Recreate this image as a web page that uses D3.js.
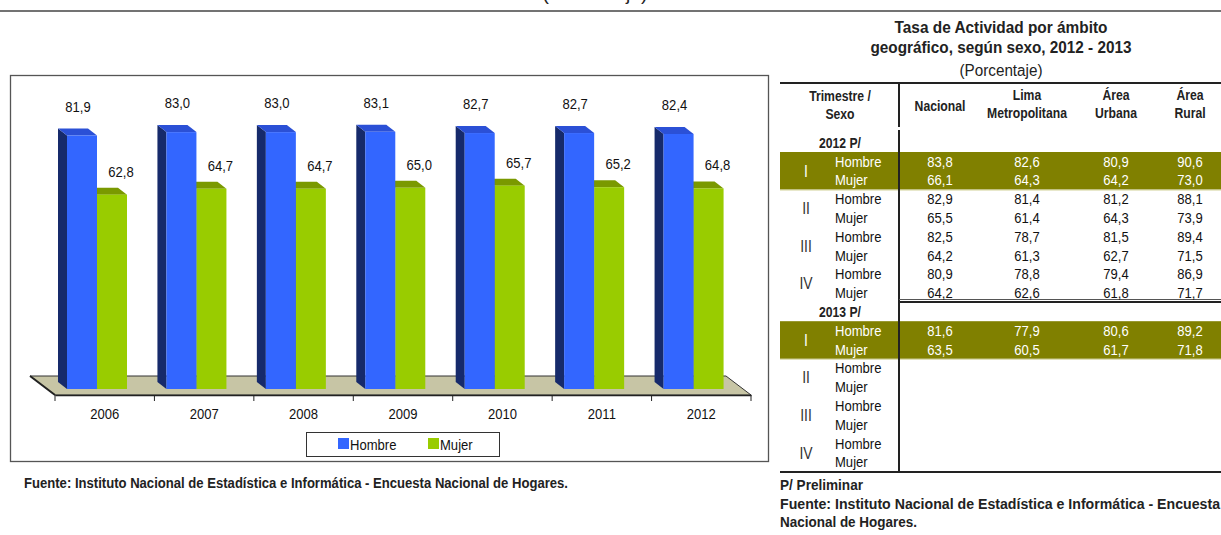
<!DOCTYPE html>
<html>
<head>
<meta charset="utf-8">
<script src="https://cdn.jsdelivr.net/npm/d3@7"></script>
<style>
  body { margin: 0; background: #fff; }
  svg { display: block; font-family: 'Liberation Sans Narrow', 'Arial Narrow', 'Liberation Sans', Arial, sans-serif; }
</style>
</head>
<body>
<svg id="chart" width="1221" height="535"></svg>
<script>
// ---- data ----
const years = ['2006', '2007', '2008', '2009', '2010', '2011', '2012'];
const hombre = [81.9, 83.0, 83.0, 83.1, 82.7, 82.7, 82.4];
const mujer = [62.8, 64.7, 64.7, 65.0, 65.7, 65.2, 64.8];
const series = ['Hombre', 'Mujer'];

const trimestres = ['I', 'II', 'III', 'IV'];
const sexos = ['Hombre', 'Mujer'];
const columnas = ['Nacional', 'Lima Metropolitana', 'Área Urbana', 'Área Rural'];
const periodos = ['2012 P/', '2013 P/'];
// rows: trimestre x sexo, values per column
const tabla2012 = [
  [83.8, 82.6, 80.9, 90.6],
  [66.1, 64.3, 64.2, 73.0],
  [82.9, 81.4, 81.2, 88.1],
  [65.5, 61.4, 64.3, 73.9],
  [82.5, 78.7, 81.5, 89.4],
  [64.2, 61.3, 62.7, 71.5],
  [80.9, 78.8, 79.4, 86.9],
  [64.2, 62.6, 61.8, 71.7]
];
const tabla2013 = [
  [81.6, 77.9, 80.6, 89.2],
  [63.5, 60.5, 61.7, 71.8],
  [], [], [], [], [], []
];

const svg = d3.select('#chart');
const fmt = v => d3.format('.1f')(v).replace('.', ',');

// ---- top rule and clipped subtitle of previous block ----
svg.append('text')
  .attr('x', 595).attr('y', 0)
  .attr('text-anchor', 'middle')
  .attr('font-size', 18)
  .attr('fill', '#222')
  .attr('textLength', 105).attr('lengthAdjust', 'spacingAndGlyphs')
  .text('(Porcentaje)');
svg.append('line')
  .attr('x1', 0).attr('x2', 1221).attr('y1', 11).attr('y2', 11)
  .attr('stroke', '#444').attr('stroke-width', 1.5);

// ---- chart box ----
svg.append('rect')
  .attr('x', 10.5).attr('y', 75.5).attr('width', 758).attr('height', 386)
  .attr('fill', '#fff').attr('stroke', '#555').attr('stroke-width', 1.3);

const xScale = d3.scaleBand().domain(years).range([55, 751]);
const yScale = d3.scaleLinear().domain([0, 100]).range([389, 79.5]);
const depth = { dx: -9, dy: -7 };
const floorDepth = { dx: -25, dy: -19 };
const floorY = 395;

// floor
const fx0 = xScale.range()[0], fx1 = xScale.range()[1];
svg.append('polygon')
  .attr('points', [
    [fx0, floorY], [fx1, floorY],
    [fx1 + floorDepth.dx, floorY + floorDepth.dy],
    [fx0 + floorDepth.dx, floorY + floorDepth.dy]
  ].map(p => p.join(',')).join(' '))
  .attr('fill', '#c7c5a5').attr('stroke', '#333').attr('stroke-width', 1);
svg.append('line')
  .attr('x1', fx0 + floorDepth.dx).attr('y1', floorY + floorDepth.dy)
  .attr('x2', fx0).attr('y2', floorY)
  .attr('stroke', '#222').attr('stroke-width', 2);

// x axis
const xAxis = d3.axisBottom(xScale).tickSize(0).tickPadding(13);
const xAxisG = svg.append('g')
  .attr('transform', `translate(0,${floorY})`)
  .call(xAxis);
xAxisG.select('.domain').attr('stroke', '#222').attr('stroke-width', 1.5);
xAxisG.selectAll('.tick text')
  .attr('font-size', 15).attr('fill', '#111')
  .attr('font-family', null);
// tick marks at category boundaries
svg.append('g').selectAll('line')
  .data(years.map(y => xScale(y)).concat([fx1]))
  .join('line')
  .attr('x1', d => d).attr('x2', d => d)
  .attr('y1', floorY).attr('y2', floorY + 6)
  .attr('stroke', '#222').attr('stroke-width', 1);

// 3D bars
const barW = 30;
const barOffset = { Hombre: 12, Mujer: 42 };
const colors = {
  Hombre: { front: '#3366ff', top: '#2b50d6', side: '#162a6b' },
  Mujer: { front: '#99cc00', top: '#7a9900', side: '#5c7300' }
};

function bar3d(g, x, v, c) {
  const y0 = yScale(0), y1 = yScale(v);
  const dx = depth.dx, dy = depth.dy;
  // left side
  g.append('polygon')
    .attr('points', [[x, y1], [x + dx, y1 + dy], [x + dx, y0 + dy], [x, y0]].map(p => p.join(',')).join(' '))
    .attr('fill', c.side);
  // top
  g.append('polygon')
    .attr('points', [[x, y1], [x + barW, y1], [x + barW + dx, y1 + dy], [x + dx, y1 + dy]].map(p => p.join(',')).join(' '))
    .attr('fill', c.top);
  // front
  g.append('rect')
    .attr('x', x).attr('y', y1).attr('width', barW).attr('height', y0 - y1)
    .attr('fill', c.front);
}

const barsG = svg.append('g');
years.forEach((yr, i) => {
  const g = barsG.append('g');
  bar3d(g, xScale(yr) + barOffset.Mujer, mujer[i], colors.Mujer);
  bar3d(g, xScale(yr) + barOffset.Hombre, hombre[i], colors.Hombre);
});

// value labels
svg.append('g').selectAll('text.h')
  .data(hombre)
  .join('text')
  .attr('x', (d, i) => xScale(years[i]) + barOffset.Hombre + barW / 2 - 4)
  .attr('y', d => yScale(d) + depth.dy - 17)
  .attr('text-anchor', 'middle').attr('font-size', 15).attr('fill', '#111')
  .text(fmt);
svg.append('g').selectAll('text.m')
  .data(mujer)
  .join('text')
  .attr('x', (d, i) => xScale(years[i]) + barOffset.Mujer + barW / 2 + 9)
  .attr('y', d => yScale(d) + depth.dy - 11)
  .attr('text-anchor', 'middle').attr('font-size', 15).attr('fill', '#111')
  .text(fmt);

// legend
const legend = svg.append('g').attr('transform', 'translate(306,432)');
legend.append('rect')
  .attr('x', 0.5).attr('y', 0.5).attr('width', 193).attr('height', 24)
  .attr('fill', '#fff').attr('stroke', '#333').attr('stroke-width', 1);
series.forEach((s, i) => {
  const lx = 32 + i * 90;
  legend.append('rect')
    .attr('x', lx).attr('y', 6).attr('width', 11).attr('height', 11)
    .attr('fill', colors[s].front);
  legend.append('text')
    .attr('x', lx + 12).attr('y', 18)
    .attr('font-size', 15).attr('fill', '#111')
    .text(s);
});

// footnote left
svg.append('text')
  .attr('x', 24).attr('y', 488)
  .attr('font-size', 14).attr('font-weight', 'bold').attr('fill', '#222')
  .attr('textLength', 544).attr('lengthAdjust', 'spacingAndGlyphs')
  .text('Fuente: Instituto Nacional de Estadística e Informática - Encuesta Nacional de Hogares.');

// ---- table ----
const tg = svg.append('g');
tg.append('text')
  .attr('x', 1001).attr('y', 33)
  .attr('text-anchor', 'middle').attr('font-size', 16).attr('font-weight', 'bold').attr('fill', '#222')
  .attr('textLength', 213).attr('lengthAdjust', 'spacingAndGlyphs')
  .text('Tasa de Actividad por ámbito');
tg.append('text')
  .attr('x', 1001).attr('y', 53)
  .attr('text-anchor', 'middle').attr('font-size', 16).attr('font-weight', 'bold').attr('fill', '#222')
  .attr('textLength', 261).attr('lengthAdjust', 'spacingAndGlyphs')
  .text('geográfico, según sexo, 2012 - 2013');
tg.append('text')
  .attr('x', 1001).attr('y', 76)
  .attr('text-anchor', 'middle').attr('font-size', 16).attr('fill', '#222')
  .attr('textLength', 83).attr('lengthAdjust', 'spacingAndGlyphs')
  .text('(Porcentaje)');

const colX = d3.scaleOrdinal().domain(columnas).range([940, 1027, 1116, 1190]);
const rowY = k => 147.7 + k * 18.8;
const rowTop = k => rowY(k) - 14.5;
const rowH = 18.8;
const labelX = 835, romanX = 806, stubX = 840, divX = 899;

// highlighted bands (first quarter of each year)
[1, 10].forEach(k => {
  tg.append('rect')
    .attr('x', 780).attr('y', rowTop(k)).attr('width', 441).attr('height', rowH * 2)
    .attr('fill', '#808000');
  tg.append('line')
    .attr('x1', 780).attr('x2', 1221)
    .attr('y1', rowTop(k) + rowH * 2 + 0.5).attr('y2', rowTop(k) + rowH * 2 + 0.5)
    .attr('stroke', '#d8d8a8').attr('stroke-width', 1);
});

// header
const hdr = tg.append('g').attr('font-weight', 'bold').attr('font-size', 14).attr('fill', '#222').attr('text-anchor', 'middle');
hdr.append('text').attr('x', stubX).attr('y', 101).text('Trimestre /');
hdr.append('text').attr('x', stubX).attr('y', 119).text('Sexo');
columnas.forEach(c => {
  const lines = c.split(' ');
  lines.forEach((ln, j) => {
    hdr.append('text')
      .attr('x', colX(c))
      .attr('y', lines.length === 1 ? 111 : 100 + j * 18)
      .text(ln);
  });
});

// rules
tg.append('line').attr('x1', 780).attr('x2', 1221).attr('y1', 83).attr('y2', 83)
  .attr('stroke', '#222').attr('stroke-width', 2);
tg.append('line').attr('x1', 780).attr('x2', 1221).attr('y1', 472).attr('y2', 472)
  .attr('stroke', '#222').attr('stroke-width', 2);
tg.append('line').attr('x1', divX).attr('x2', divX).attr('y1', 83).attr('y2', 127)
  .attr('stroke', '#222').attr('stroke-width', 2);
tg.append('line').attr('x1', divX).attr('x2', divX).attr('y1', 130).attr('y2', 472)
  .attr('stroke', '#222').attr('stroke-width', 2);
tg.append('line').attr('x1', divX).attr('x2', 1221).attr('y1', 299.5).attr('y2', 299.5)
  .attr('stroke', '#555').attr('stroke-width', 1);
tg.append('line').attr('x1', divX).attr('x2', 1221).attr('y1', 302).attr('y2', 302)
  .attr('stroke', '#222').attr('stroke-width', 2);

// body
[tabla2012, tabla2013].forEach((tbl, p) => {
  const base = p * 9;
  tg.append('text')
    .attr('x', stubX).attr('y', rowY(base))
    .attr('text-anchor', 'middle').attr('font-weight', 'bold').attr('font-size', 14).attr('fill', '#222')
    .text(periodos[p]);
  trimestres.forEach((t, ti) => {
    const hl = ti === 0;
    const k0 = base + 1 + ti * 2;
    tg.append('text')
      .attr('x', romanX).attr('y', rowY(k0) + 10)
      .attr('text-anchor', 'middle').attr('font-size', 16)
      .attr('fill', hl ? '#fff' : '#333')
      .text(t);
    sexos.forEach((s, si) => {
      const k = k0 + si;
      const vals = tbl[ti * 2 + si];
      tg.append('text')
        .attr('x', labelX).attr('y', rowY(k))
        .attr('font-size', 15).attr('fill', hl ? '#fff' : '#111')
        .text(s);
      tg.append('g').selectAll('text')
        .data(vals)
        .join('text')
        .attr('x', (d, ci) => colX(columnas[ci]))
        .attr('y', rowY(k))
        .attr('text-anchor', 'middle').attr('font-size', 15)
        .attr('fill', hl ? '#fff' : '#111')
        .text(fmt);
    });
  });
});

// footnotes right
const fn = tg.append('g').attr('font-weight', 'bold').attr('font-size', 14).attr('fill', '#222');
fn.append('text').attr('x', 780).attr('y', 490)
  .attr('textLength', 83).attr('lengthAdjust', 'spacingAndGlyphs')
  .text('P/ Preliminar');
fn.append('text').attr('x', 780).attr('y', 509)
  .attr('textLength', 440).attr('lengthAdjust', 'spacingAndGlyphs')
  .text('Fuente: Instituto Nacional de Estadística e Informática - Encuesta');
fn.append('text').attr('x', 780).attr('y', 527)
  .attr('textLength', 137).attr('lengthAdjust', 'spacingAndGlyphs')
  .text('Nacional de Hogares.');

// the source uses a narrow face: condense any text without an explicit length
svg.selectAll('text').filter(function () { return !this.hasAttribute('textLength'); })
  .each(function () {
    const w = this.getComputedTextLength();
    d3.select(this).attr('textLength', w * 0.87).attr('lengthAdjust', 'spacingAndGlyphs');
  });
</script>
</body>
</html>
